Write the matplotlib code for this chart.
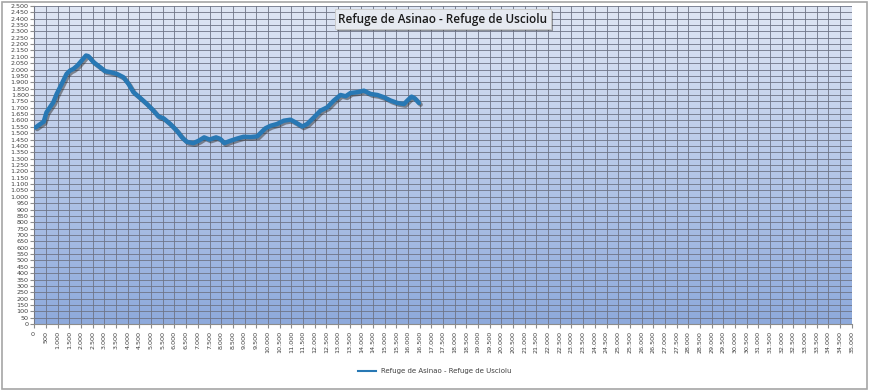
import numpy as np
import matplotlib
matplotlib.use("Agg")
from matplotlib import pyplot as plt
from matplotlib.ticker import MultipleLocator, FuncFormatter
import matplotlib.patheffects as pe
from matplotlib.colors import LinearSegmentedColormap

title = "Refuge de Asinao - Refuge de Usciolu"

# distance (m) and elevation (m)
dist = [50, 240, 400, 520, 665, 810, 955, 1170, 1380, 1530, 1670, 1840, 2030,
        2210, 2310, 2530, 2810, 3030, 3240, 3530, 3810, 4030, 4240, 4530, 4820,
        5100, 5310, 5530, 5820, 6100, 6320, 6530, 6810, 7030, 7270, 7500, 7780,
        7960, 8130, 8390, 8670, 8960, 9250, 9540, 9890, 10110, 10390, 10680,
        10970, 11180, 11470, 11680, 11970, 12250, 12540, 12820, 13110, 13330,
        13540, 13830, 14110, 14400, 14690, 14970, 15260, 15550, 15830, 15970,
        16150, 16290, 16470]
elev = [1545, 1570, 1590, 1664, 1703, 1742, 1808, 1887, 1966, 1992, 2005, 2031,
        2071, 2110, 2105, 2058, 2019, 1987, 1980, 1966, 1940, 1887, 1822, 1777,
        1729, 1677, 1632, 1617, 1572, 1519, 1467, 1432, 1422, 1440, 1467, 1450,
        1467, 1455, 1422, 1440, 1457, 1472, 1470, 1475, 1538, 1558, 1572, 1598,
        1606, 1585, 1553, 1572, 1624, 1677, 1703, 1756, 1800, 1790, 1816, 1822,
        1834, 1808, 1800, 1782, 1756, 1737, 1729, 1756, 1787, 1774, 1737]

x_max = 35000
y_max = 2500


def dotted(v, pos):
    return "{:,}".format(int(v)).replace(",", ".")


fig = plt.figure(figsize=(8.7, 3.91), dpi=100)
ax = fig.add_axes([0.0395, 0.171, 0.9395, 0.814])

# background gradient (light at top, darker blue at bottom)
cmap = LinearSegmentedColormap.from_list("bg", ["#8eaadc", "#dfe6f4"])
grad = np.linspace(0, 1, 256).reshape(-1, 1)
ax.imshow(grad, aspect="auto", cmap=cmap, origin="lower",
          extent=[0, x_max, 0, y_max], zorder=0)

ax.set_xlim(0, x_max)
ax.set_ylim(0, y_max)
ax.xaxis.set_major_locator(MultipleLocator(500))
ax.yaxis.set_major_locator(MultipleLocator(50))
ax.xaxis.set_major_formatter(FuncFormatter(dotted))
ax.yaxis.set_major_formatter(FuncFormatter(dotted))
ax.grid(which="major", color="#6e7486", linewidth=0.6, zorder=1)
ax.set_axisbelow(False)

ax.tick_params(axis="x", labelsize=4.6, labelrotation=90, length=3,
               color="#8c8c8c", labelcolor="#404040", pad=2)
ax.tick_params(axis="y", labelsize=4.6, length=3, color="#8c8c8c",
               labelcolor="#404040", pad=1)
for s in ["top", "right"]:
    ax.spines[s].set_visible(False)
for s in ["left", "bottom"]:
    ax.spines[s].set_color("#8c8c8c")

line, = ax.plot(dist, elev, color="#2878b4", linewidth=3.2, zorder=3,
                solid_capstyle="round", label=title,
                path_effects=[pe.SimpleLineShadow(offset=(1.2, -1.2),
                                                  shadow_color="#303030",
                                                  alpha=0.5),
                              pe.Normal()])

ax.text(0.5, 0.978, title, transform=ax.transAxes, ha="center", va="top",
        fontsize=8.5, fontweight="semibold", color="#1a1a1a", zorder=5,
        family="Open Sans",
        bbox=dict(boxstyle="square,pad=0.3", facecolor="#e6eaf1",
                  edgecolor="#c8c8c8", linewidth=0.6,
                  path_effects=[pe.SimplePatchShadow(offset=(1.5, -1.5),
                                                     shadow_rgbFace="#404040",
                                                     alpha=0.5),
                                pe.Normal()]))

leg = fig.legend([plt.Line2D([0], [0], color="#2878b4", linewidth=1.5)],
                 [title], loc="center", bbox_to_anchor=(0.5, 0.05),
                 frameon=False, fontsize=5, handlelength=2.5)
for t in leg.get_texts():
    t.set_color("#404040")

fig.patches.append(plt.Rectangle((0.002, 0.004), 0.995, 0.992,
                                 transform=fig.transFigure, fill=False,
                                 edgecolor="#a6a6a6", linewidth=1.2))

plt.savefig("out.png", dpi=100)
